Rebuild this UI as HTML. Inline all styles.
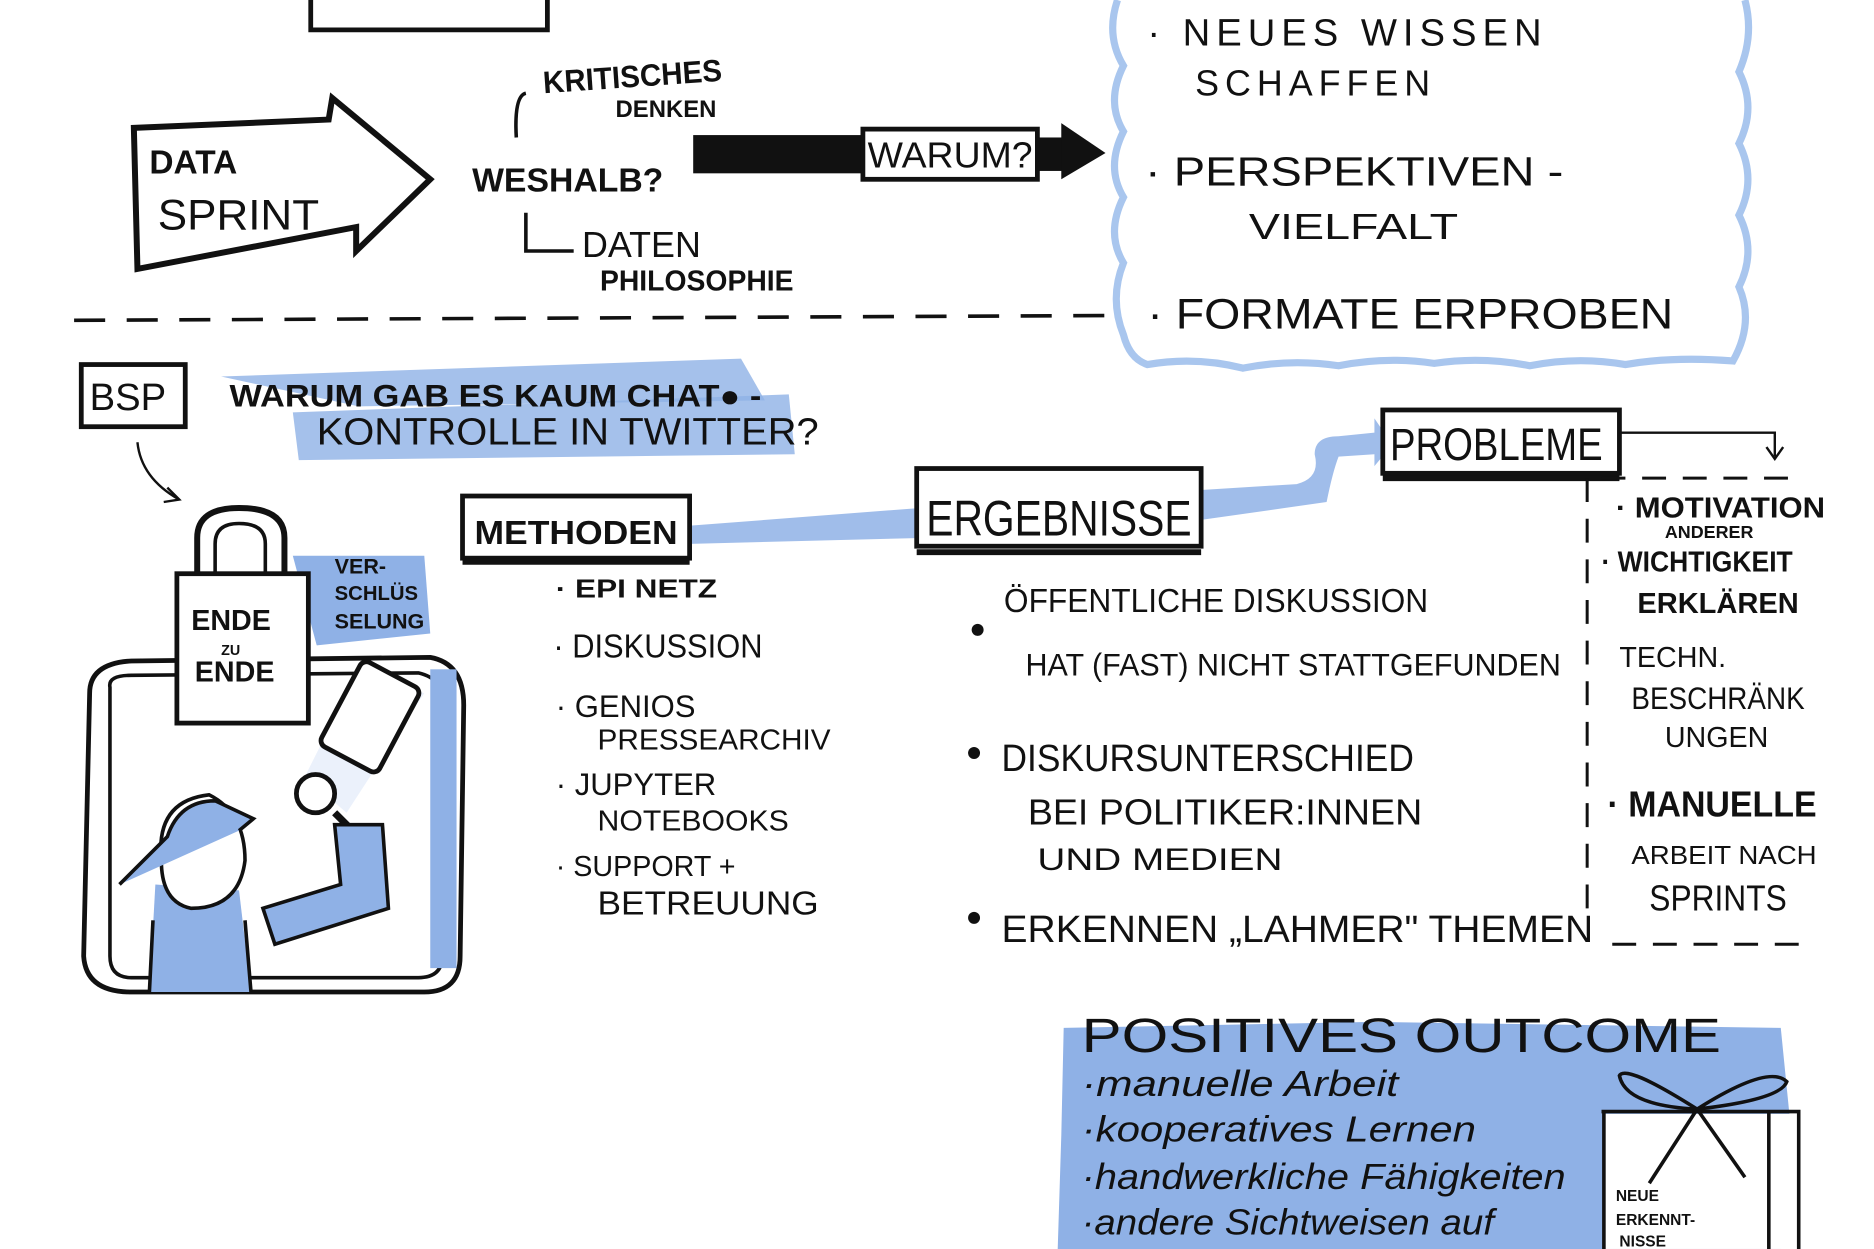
<!DOCTYPE html>
<html><head><meta charset="utf-8"><style>
html,body{margin:0;padding:0;background:#fff;}
svg{display:block}
text{font-family:"Liberation Sans",sans-serif;fill:#111;}
</style></head><body>
<svg width="1874" height="1249" viewBox="0 0 1568 1045" xmlns="http://www.w3.org/2000/svg">
<rect width="1568" height="1045" fill="#fff"/>
<path d="M260 0 V25 H458 V0" fill="none" stroke="#111" stroke-width="4"/>
<path d="M112 107 L275 100 L278 82 L360 150 L298 210 L298 190 L115 225 Z" fill="none" stroke="#111" stroke-width="5"/>
<text x="125" y="145" font-size="28" font-weight="bold">DATA</text>
<text x="132" y="192" font-size="36" textLength="135" lengthAdjust="spacingAndGlyphs">SPRINT</text>
<path d="M440 78 Q430 80 432 115" fill="none" stroke="#111" stroke-width="3"/>
<text x="455" y="78" font-size="26" font-weight="bold" transform="rotate(-4 455 78)" textLength="150" lengthAdjust="spacingAndGlyphs">KRITISCHES</text>
<text x="515" y="98" font-size="20" font-weight="bold">DENKEN</text>
<text x="395" y="160" font-size="28" font-weight="bold" textLength="160" lengthAdjust="spacingAndGlyphs">WESHALB?</text>
<path d="M440 178 V210 H480" fill="none" stroke="#111" stroke-width="3"/>
<text x="487" y="215" font-size="30">DATEN</text>
<text x="502" y="243" font-size="24" font-weight="bold" textLength="162" lengthAdjust="spacingAndGlyphs">PHILOSOPHIE</text>
<rect x="580" y="113" width="145" height="32" fill="#111"/>
<rect x="722" y="108" width="146" height="42" fill="#fff" stroke="#111" stroke-width="4"/>
<text x="726" y="140" font-size="30" textLength="138" lengthAdjust="spacingAndGlyphs">WARUM?</text>
<rect x="866" y="115" width="25" height="28" fill="#111"/>
<path d="M888 103 L925 128 L888 150 Z" fill="#111"/>
<path d="M935 0 Q925 30 940 55 Q925 85 940 110 Q925 140 940 165 Q925 195 940 220 Q928 250 940 280 Q945 300 960 305 Q1000 298 1040 308 Q1080 300 1120 306 Q1160 298 1200 304 Q1240 298 1280 306 Q1320 298 1360 305 Q1400 298 1450 302 Q1468 270 1455 240 Q1470 210 1455 180 Q1470 150 1455 120 Q1470 90 1455 60 Q1468 30 1460 0" fill="none" stroke="#a9c6ee" stroke-width="6"/>
<text x="960" y="38" font-size="32" letter-spacing="5">· NEUES  WISSEN</text>
<text x="1000" y="80" font-size="30" letter-spacing="5">SCHAFFEN</text>
<text x="958" y="155" font-size="34" textLength="350" lengthAdjust="spacingAndGlyphs">· PERSPEKTIVEN -</text>
<text x="1045" y="200" font-size="30" textLength="175" lengthAdjust="spacingAndGlyphs">VIELFALT</text>
<text x="960" y="275" font-size="36" textLength="440" lengthAdjust="spacingAndGlyphs">· FORMATE  ERPROBEN</text>
<line x1="62" y1="268" x2="930" y2="264" stroke="#111" stroke-width="3" stroke-dasharray="26 18"/>
<rect x="68" y="305" width="87" height="52" fill="none" stroke="#111" stroke-width="4"/>
<text x="75" y="343" font-size="32">BSP</text>
<path d="M115 370 Q118 400 150 418" fill="none" stroke="#111" stroke-width="2"/>
<path d="M140 408 L150 418 L137 420" fill="none" stroke="#111" stroke-width="2"/>
<path d="M185 315 L620 300 L640 335 L300 340 Z" fill="#8fb1e6" opacity="0.8"/>
<path d="M245 345 L660 330 L665 380 L250 385 Z" fill="#8fb1e6" opacity="0.8"/>
<text x="192" y="340" font-size="26" font-weight="bold" textLength="445" lengthAdjust="spacingAndGlyphs">WARUM GAB ES KAUM CHAT● -</text>
<text x="265" y="372" font-size="32" textLength="420" lengthAdjust="spacingAndGlyphs">KONTROLLE  IN TWITTER?</text>
<path d="M75 580 Q75 555 110 553 L360 550 Q388 555 388 590 L385 800 Q385 830 355 830 L110 830 Q72 830 70 800 Z" fill="#fff" stroke="#111" stroke-width="4"/>
<path d="M92 575 Q90 565 110 565 L350 563 Q372 568 372 590 L370 800 Q370 818 350 818 L110 818 Q92 818 92 800 Z" fill="none" stroke="#111" stroke-width="3"/>
<rect x="360" y="560" width="22" height="250" fill="#8fb1e6"/>
<path d="M245 465 L355 465 L360 530 L265 540 Z" fill="#8fb1e6"/>
<rect x="148" y="480" width="110" height="125" fill="#fff" stroke="#111" stroke-width="4"/>
<path d="M165 480 V450 Q165 425 200 425 Q238 425 238 450 V480" fill="none" stroke="#111" stroke-width="5"/>
<path d="M180 480 V455 Q180 438 200 438 Q222 438 222 455 V480" fill="none" stroke="#111" stroke-width="3"/>
<text x="160" y="527" font-size="24" font-weight="bold">ENDE</text>
<text x="185" y="548" font-size="12" font-weight="bold">ZU</text>
<text x="163" y="570" font-size="24" font-weight="bold">ENDE</text>
<text x="280" y="480" font-size="18" font-weight="bold">VER-</text>
<text x="280" y="502" font-size="17" font-weight="bold">SCHLÜS</text>
<text x="280" y="526" font-size="18" font-weight="bold">SELUNG</text>
<path d="M255 650 L300 560 L355 580 L290 680 Z" fill="#dde8f8" opacity="0.6"/>
<rect x="282" y="560" width="55" height="80" rx="6" transform="rotate(28 310 600)" fill="#fff" stroke="#111" stroke-width="4"/>
<circle cx="264" cy="664" r="16" fill="#fff" stroke="#111" stroke-width="4"/>
<path d="M280 680 L300 700" stroke="#111" stroke-width="6"/>
<path d="M125 830 L130 740 L200 745 L210 830 Z" fill="#8fb1e6"/>
<path d="M280 690 L320 690 L325 760 L230 790 L220 760 L285 740 Z" fill="#8fb1e6" stroke="#111" stroke-width="3"/>
<path d="M135 720 Q130 670 175 665 Q205 680 205 720 Q200 760 160 760 Q135 755 135 720 Z" fill="#fff" stroke="#111" stroke-width="3"/>
<path d="M100 740 L140 700 Q150 670 180 670 L212 685 L200 695" fill="#8fb1e6" stroke="#111" stroke-width="3"/>
<path d="M125 830 L128 770 M210 830 L205 770" stroke="#111" stroke-width="3"/>
<path d="M575 440 L770 425 L775 450 L578 455 Z" fill="#8fb1e6" opacity="0.85"/>
<rect x="387" y="415" width="190" height="52" fill="#fff" stroke="#111" stroke-width="4"/>
<line x1="387" y1="470" x2="577" y2="470" stroke="#111" stroke-width="5"/>
<text x="397" y="455" font-size="28" font-weight="bold" textLength="170" lengthAdjust="spacingAndGlyphs">METHODEN</text>
<text x="465" y="500" font-size="22" font-weight="bold" textLength="135" lengthAdjust="spacingAndGlyphs">· EPI NETZ</text>
<text x="463" y="550" font-size="28" textLength="175" lengthAdjust="spacingAndGlyphs">· DISKUSSION</text>
<text x="465" y="600" font-size="26">· GENIOS</text>
<text x="500" y="627" font-size="24" textLength="195" lengthAdjust="spacingAndGlyphs">PRESSEARCHIV</text>
<text x="465" y="665" font-size="26">· JUPYTER</text>
<text x="500" y="695" font-size="24" textLength="160" lengthAdjust="spacingAndGlyphs">NOTEBOOKS</text>
<text x="465" y="733" font-size="24">· SUPPORT +</text>
<text x="500" y="765" font-size="28" textLength="185" lengthAdjust="spacingAndGlyphs">BETREUUNG</text>
<path d="M1005 410 L1085 405 Q1105 400 1100 380 Q1100 365 1120 365 L1150 362 L1150 350 L1165 372 L1150 390 L1150 380 L1120 382 Q1115 395 1110 420 L1005 435 Z" fill="#8fb1e6" opacity="0.85"/>
<rect x="767" y="392" width="238" height="65" fill="#fff" stroke="#111" stroke-width="4"/>
<line x1="767" y1="462" x2="1005" y2="462" stroke="#111" stroke-width="5"/>
<text x="775" y="448" font-size="42" textLength="222" lengthAdjust="spacingAndGlyphs">ERGEBNISSE</text>
<circle cx="818" cy="527" r="5" fill="#111"/>
<text x="840" y="512" font-size="28" textLength="355" lengthAdjust="spacingAndGlyphs">ÖFFENTLICHE  DISKUSSION</text>
<text x="858" y="565" font-size="26" textLength="448" lengthAdjust="spacingAndGlyphs">HAT (FAST) NICHT STATTGEFUNDEN</text>
<circle cx="815" cy="630" r="5" fill="#111"/>
<text x="838" y="645" font-size="32" textLength="345" lengthAdjust="spacingAndGlyphs">DISKURSUNTERSCHIED</text>
<text x="860" y="690" font-size="30" textLength="330" lengthAdjust="spacingAndGlyphs">BEI POLITIKER:INNEN</text>
<text x="868" y="728" font-size="26" textLength="205" lengthAdjust="spacingAndGlyphs">UND  MEDIEN</text>
<circle cx="815" cy="768" r="5" fill="#111"/>
<text x="838" y="788" font-size="32" textLength="495" lengthAdjust="spacingAndGlyphs">ERKENNEN „LAHMER" THEMEN</text>
<rect x="1157" y="343" width="198" height="53" fill="#fff" stroke="#111" stroke-width="4"/>
<line x1="1157" y1="400" x2="1355" y2="400" stroke="#111" stroke-width="5"/>
<text x="1163" y="385" font-size="38" textLength="178" lengthAdjust="spacingAndGlyphs">PROBLEME</text>
<path d="M1355 362 H1485 V382" fill="none" stroke="#111" stroke-width="2"/>
<path d="M1478 374 L1485 384 L1492 374" fill="none" stroke="#111" stroke-width="2"/>
<path d="M1340 400 H1505 M1505 790 H1340 M1328 400 V760" fill="none" stroke="#111" stroke-width="2.5" stroke-dasharray="20 14"/>
<text x="1352" y="433" font-size="24" font-weight="bold" textLength="175" lengthAdjust="spacingAndGlyphs">· MOTIVATION</text>
<text x="1393" y="450" font-size="15" font-weight="bold">ANDERER</text>
<text x="1340" y="478" font-size="24" font-weight="bold" textLength="160" lengthAdjust="spacingAndGlyphs">· WICHTIGKEIT</text>
<text x="1370" y="513" font-size="24" font-weight="bold" textLength="135" lengthAdjust="spacingAndGlyphs">ERKLÄREN</text>
<text x="1355" y="558" font-size="24">TECHN.</text>
<text x="1365" y="593" font-size="26" textLength="145" lengthAdjust="spacingAndGlyphs">BESCHRÄNK</text>
<text x="1393" y="625" font-size="24">UNGEN</text>
<text x="1345" y="683" font-size="30" font-weight="bold" textLength="175" lengthAdjust="spacingAndGlyphs">· MANUELLE</text>
<text x="1365" y="723" font-size="22" textLength="155" lengthAdjust="spacingAndGlyphs">ARBEIT NACH</text>
<text x="1380" y="762" font-size="30" textLength="115" lengthAdjust="spacingAndGlyphs">SPRINTS</text>
<path d="M890 860 L1150 855 L1490 860 L1500 960 L1490 1045 L885 1045 L888 950 Z" fill="#8fb1e6"/>
<text x="905" y="880" font-size="40" textLength="535" lengthAdjust="spacingAndGlyphs">POSITIVES  OUTCOME</text>
<text x="905" y="917" font-size="30" font-style="italic" textLength="265" lengthAdjust="spacingAndGlyphs">·manuelle Arbeit</text>
<text x="905" y="955" font-size="30" font-style="italic" textLength="330" lengthAdjust="spacingAndGlyphs">·kooperatives Lernen</text>
<text x="905" y="995" font-size="30" font-style="italic" textLength="405" lengthAdjust="spacingAndGlyphs">·handwerkliche Fähigkeiten</text>
<text x="905" y="1033" font-size="30" font-style="italic" textLength="345" lengthAdjust="spacingAndGlyphs">·andere Sichtweisen auf</text>
<rect x="1342" y="932" width="161" height="113" fill="#fff"/>
<path d="M1340 930 H1505 V1045 M1342 930 V1045 M1480 930 V1045" fill="none" stroke="#111" stroke-width="3"/>
<path d="M1355 900 Q1360 890 1420 928 Q1480 890 1495 905 Q1490 920 1420 928 Q1360 925 1355 900 Z M1420 928 L1380 990 M1420 928 L1460 985" fill="none" stroke="#111" stroke-width="3"/>
<text x="1352" y="1005" font-size="13" font-weight="bold">NEUE</text>
<text x="1352" y="1025" font-size="13" font-weight="bold">ERKENNT-</text>
<text x="1355" y="1043" font-size="13" font-weight="bold">NISSE</text>
</svg>
</body></html>
